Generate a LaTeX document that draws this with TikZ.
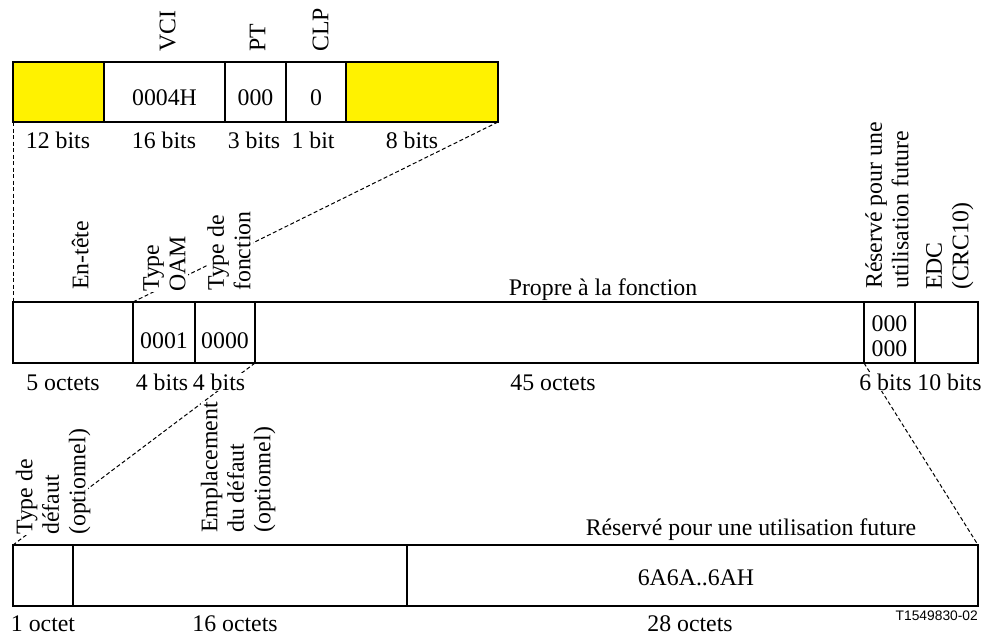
\documentclass[tikz,border=0pt]{standalone}
\usepackage{fontspec}
\setmainfont{Liberation Serif}
\newfontfamily\arialf{Liberation Sans}
\usetikzlibrary{calc}
\begin{document}
\begin{tikzpicture}[x=1pt,y=-1pt,
  font=\fontsize{23.8}{26.5}\selectfont,
  cell/.style={draw,line width=1.3pt,inner sep=0pt,outer sep=0pt,anchor=north west},
  yel/.style={cell,fill=yellow},
  txt/.style={anchor=base,inner sep=0.5pt,fill=white},
  rot/.style={rotate=90,anchor=south west,align=left,inner sep=0pt,text depth=0.25em,fill=white},
  conn/.style={line width=1pt,dash pattern=on 4pt off 2.5pt}]
\path[use as bounding box,fill=white] (0,0) rectangle (984,637);
% top row
\node[yel,minimum width=91pt,minimum height=60pt] (t1) at (13,62) {};
\node[cell,minimum width=121pt,minimum height=60pt] (t2) at (104,62) {};
\node[cell,minimum width=61pt,minimum height=60pt] (t3) at (225,62) {};
\node[cell,minimum width=60pt,minimum height=60pt] (t4) at (286,62) {};
\node[yel,minimum width=152pt,minimum height=60pt] (t5) at (346,62) {};
% middle row
\node[cell,minimum width=120pt,minimum height=61pt] (m1) at (13,302) {};
\node[cell,minimum width=62pt,minimum height=61pt] (m2) at (133,302) {};
\node[cell,minimum width=60pt,minimum height=61pt] (m3) at (195,302) {};
\node[cell,minimum width=609pt,minimum height=61pt] (m4) at (255,302) {};
\node[cell,minimum width=51pt,minimum height=61pt] (m5) at (864,302) {};
\node[cell,minimum width=63pt,minimum height=61pt] (m6) at (915,302) {};
% bottom row
\node[cell,minimum width=60pt,minimum height=61pt] (b1) at (13,545) {};
\node[cell,minimum width=334pt,minimum height=61pt] (b2) at (73,545) {};
\node[cell,minimum width=571pt,minimum height=61pt] (b3) at (407,545) {};
% connectors
\draw[conn] (t1.south west) -- (m1.north west);
\draw[conn] (t5.south east) -- (m2.north west);
\draw[conn] (m3.south east) -- (b1.north west);
\draw[conn] (m5.south west) -- (b3.north east);
% top labels
\node[rot] (lvci) at (178,52) {VCI};
\node[rot] (lpt) at (268,52) {PT};
\node[rot] (lclp) at (331,52) {CLP};
\node[txt] (v2) at (164.5,105) {0004H};
\node[txt] (v3) at (255.5,105) {000};
\node[txt] (v4) at (316,105) {0};
\node[txt] (s1) at (58,148) {12 bits};
\node[txt] (s2) at (164,148) {16 bits};
\node[txt] (s3) at (254,148) {3 bits};
\node[txt] (s4) at (313,148) {1 bit};
\node[txt] (s5) at (412,148) {8 bits};
% middle labels
\node[rot] (len) at (91,290) {En-tête};
\node[rot] (loam) at (188,292) {Type\\OAM};
\node[rot] (lfon) at (253,291) {Type de\\fonction};
\node[txt] (lpro) at (603,295) {Propre à la fonction};
\node[rot] (lres) at (911,289) {Réservé pour une\\utilisation future};
\node[rot] (ledc) at (971,290) {EDC\\(CRC10)};
\node[txt] (v5) at (164,348) {0001};
\node[txt] (v6) at (225,348) {0000};
\node[align=center,inner sep=0pt,font=\fontsize{23.8}{25}\selectfont] (v7) at (889.5,335.8) {000\\000};
\node[txt] (s6) at (63,390) {5 octets};
\node[txt] (s7) at (162,390) {4 bits};
\node[txt] (s8) at (219,390) {4 bits};
\node[txt] (s9) at (553,390) {45 octets};
\node[txt] (s10) at (885.5,390) {6 bits};
\node[txt] (s11) at (949.5,390) {10 bits};
% bottom labels
\node[rot] (ldef) at (88,535) {Type de\\défaut\\(optionnel)};
\node[rot] (lemp) at (273,533) {Emplacement\\du défaut\\(optionnel)};
\node[txt] (lres2) at (751,535) {Réservé pour une utilisation future};
\node[txt] (v8) at (696,585) {6A6A..6AH};
\node[txt] (s12) at (43,631) {1 octet};
\node[txt] (s13) at (235,631) {16 octets};
\node[txt] (s14) at (690,631) {28 octets};
\node[anchor=base east,inner sep=0pt,font=\arialf\fontsize{13.8}{16}\selectfont] (tid) at (978,620) {T1549830-02};
\end{tikzpicture}
\end{document}
